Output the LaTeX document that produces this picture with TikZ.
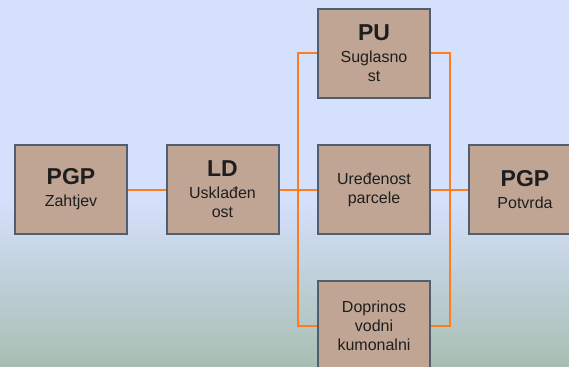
\documentclass[tikz,border=0pt]{standalone}
\usepackage{fontspec}
\setmainfont{Liberation Sans}
\definecolor{bgtop}{RGB}{213,224,252}
\definecolor{bgbot}{RGB}{168,190,178}
\definecolor{boxfill}{RGB}{192,165,148}
\definecolor{boxline}{RGB}{80,95,112}
\definecolor{conn}{RGB}{255,125,30}
\definecolor{txt}{RGB}{30,30,30}
\begin{document}
\begin{tikzpicture}[x=1pt,y=-1pt,
  stagebox/.style={draw=boxline,line width=2pt,fill=boxfill,minimum width=112pt,minimum height=89pt,
    inner sep=0pt,align=center,text=txt,font=\fontsize{16}{19}\selectfont},
  link/.style={draw=conn,line width=2pt}]
\useasboundingbox (0,0) rectangle (569,366);
\clip (0,0) rectangle (569,366);
\fill[bgtop] (0,0) rectangle (569,201);
\shade[top color=bgtop,bottom color=bgbot] (0,200) rectangle (569,366);
\newcommand{\ttl}[1]{{\fontsize{23}{23}\selectfont\bfseries #1}\\[3pt]}
\node[stagebox] (pgpl) at (71,189.5) {\ttl{PGP}Zahtjev};
\node[stagebox] (ld) at (222.5,189.5) {\ttl{LD}Usklađen\\ost};
\node[stagebox] (pu) at (374,53.5) {\ttl{PU}Suglasno\\st};
\node[stagebox] (ure) at (374,189.5) {Uređenost\\parcele};
\node[stagebox] (dop) at (374,325.5) {Doprinos\\vodni\\kumonalni};
\node[stagebox] (pgpr) at (525,189.5) {\ttl{PGP}Potvrda};
\draw[link] (pgpl.east) -- (ld.west);
\draw[link] (ld.east) -- (ure.west);
\draw[link] (pu.west) -- ++(-19,0) |- (dop.west);
\draw[link] (pu.east) -- ++(19,0) |- (dop.east);
\draw[link] (ure.east) -- (pgpr.west);
\end{tikzpicture}
\end{document}
